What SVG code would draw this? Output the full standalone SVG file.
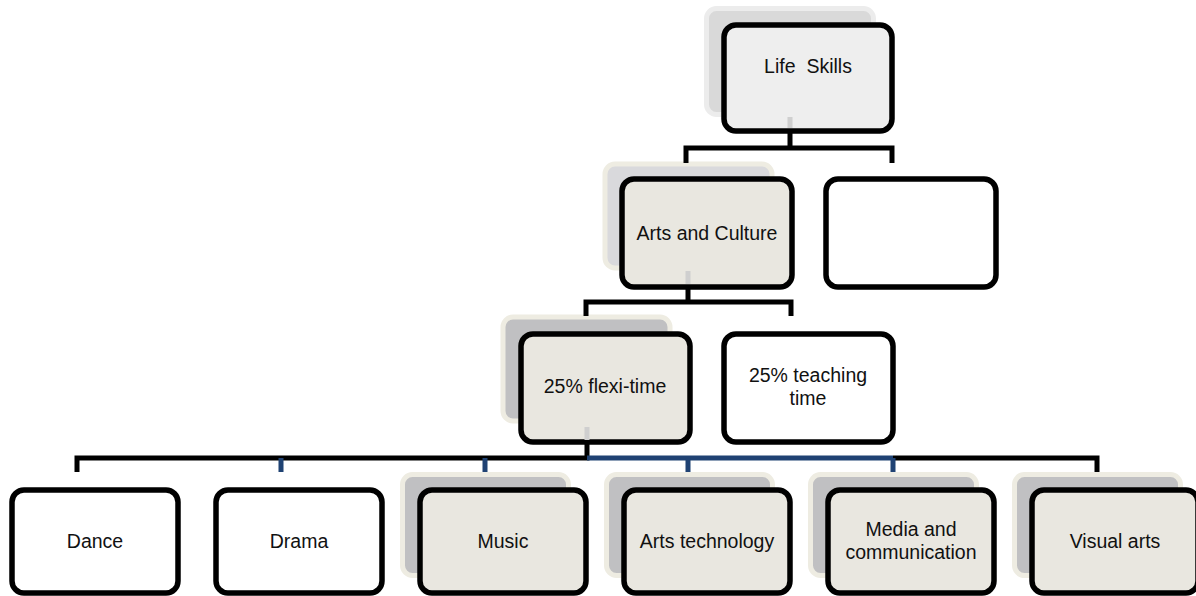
<svg xmlns="http://www.w3.org/2000/svg" width="1196" height="596" viewBox="0 0 1196 596">
<style>
  .box { stroke: #000; stroke-width: 5.5; }
  .plain { fill: #ffffff; }
  .grey { fill: #eeeeee; }
  .beige { fill: #e9e7e0; }
  .sh1 { fill: #d9d9d9; stroke: #ececec; stroke-width: 5; }
  .sh2 { fill: #d9d9dc; stroke: #eeece2; stroke-width: 5; }
  .sh3 { fill: #c0c0c2; stroke: #eeece2; stroke-width: 5; }
  .lbl { font-family: "Liberation Sans", Arial, sans-serif; font-size: 19.5px; fill: #111; text-anchor: middle; }
  .k { stroke: #000; stroke-width: 5; fill: none; }
  .b { stroke: #1f4273; stroke-width: 5; fill: none; }
  .stub { stroke: #cfcfcf; stroke-width: 5; fill: none; }
</style>

<g id="node-life-skills">
  <rect class="sh1" x="706.5" y="8.5" width="167" height="106" rx="10"/>
  <rect class="box grey" x="724" y="25" width="168" height="106" rx="12"/>
  <text class="lbl" x="808" y="73" xml:space="preserve">Life  Skills</text>
</g>

<g id="node-arts-culture">
  <rect class="sh2" x="605" y="164" width="167" height="104" rx="10"/>
  <rect class="box beige" x="622" y="179" width="170" height="108" rx="12"/>
  <text class="lbl" x="707" y="240">Arts and Culture</text>
</g>

<g id="node-empty">
  <rect class="box plain" x="826" y="179" width="170" height="108" rx="12"/>
</g>

<g id="node-flexi">
  <rect class="sh3" x="503" y="317" width="167" height="104" rx="10"/>
  <rect class="box beige" x="521" y="334" width="169" height="108" rx="12"/>
  <text class="lbl" x="605" y="393">25% flexi-time</text>
</g>

<g id="node-teaching">
  <rect class="box plain" x="724" y="334" width="169" height="108" rx="12"/>
  <text class="lbl" x="808" y="382">25% teaching</text>
  <text class="lbl" x="808" y="405">time</text>
</g>

<g id="node-dance">
  <rect class="box plain" x="12" y="490" width="166" height="103" rx="12"/>
  <text class="lbl" x="95" y="548">Dance</text>
</g>

<g id="node-drama">
  <rect class="box plain" x="216" y="490" width="166" height="103" rx="12"/>
  <text class="lbl" x="299" y="548">Drama</text>
</g>

<g id="node-music">
  <rect class="sh3" x="402.5" y="474.5" width="166" height="101" rx="10"/>
  <rect class="box beige" x="420" y="490" width="166" height="103" rx="12"/>
  <text class="lbl" x="503" y="548">Music</text>
</g>

<g id="node-arts-tech">
  <rect class="sh3" x="606.5" y="474.5" width="166" height="101" rx="10"/>
  <rect class="box beige" x="624" y="490" width="166" height="103" rx="12"/>
  <text class="lbl" x="707" y="548">Arts technology</text>
</g>

<g id="node-media">
  <rect class="sh3" x="810.5" y="474.5" width="166" height="101" rx="10"/>
  <rect class="box beige" x="828" y="490" width="166" height="103" rx="12"/>
  <text class="lbl" x="911" y="536">Media and</text>
  <text class="lbl" x="911" y="559">communication</text>
</g>

<g id="node-visual">
  <rect class="sh3" x="1014.5" y="474.5" width="166" height="101" rx="10"/>
  <rect class="box beige" x="1032" y="490" width="166" height="103" rx="12"/>
  <text class="lbl" x="1115" y="548">Visual arts</text>
</g>

<g id="connectors">
  <line class="stub" x1="790" y1="117" x2="790" y2="128"/>
  <path class="k" d="M790 131 V148 M686 163 V148 H892 V163"/>
  <line class="stub" x1="688" y1="271" x2="688" y2="284"/>
  <path class="k" d="M688 288 V302 M586 316 V302 H791 V316"/>
  <line class="stub" x1="587" y1="427" x2="587" y2="440"/>
  <path class="k" d="M587 443 V458 H77 V472"/>
  <path class="b" d="M587 458 H893"/>
  <path class="k" d="M893 458 H1097 V472"/>
  <path class="b" d="M281 458 V472 M485 458 V472 M688 458 V472 M893 458 V472"/>
</g>
</svg>
